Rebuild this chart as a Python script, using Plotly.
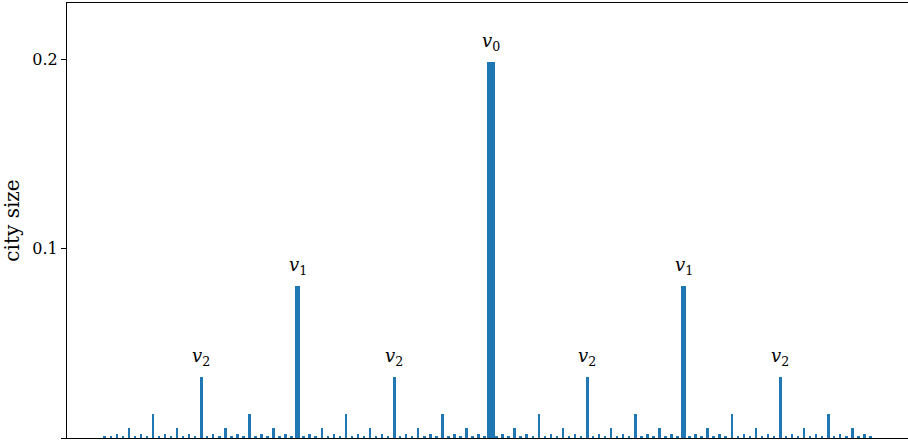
import plotly.graph_objects as go

# Hierarchy level of each of the 128 cities on the ring (0 = largest centre)
city_level = [
    6, 6, 5, 6, 4, 6, 5, 6, 3, 6, 5, 6, 4, 6, 5, 6,
    2, 6, 5, 6, 4, 6, 5, 6, 3, 6, 5, 6, 4, 6, 5, 6,
    1, 6, 5, 6, 4, 6, 5, 6, 3, 6, 5, 6, 4, 6, 5, 6,
    2, 6, 5, 6, 4, 6, 5, 6, 3, 6, 5, 6, 4, 6, 5, 6,
    0, 6, 5, 6, 4, 6, 5, 6, 3, 6, 5, 6, 4, 6, 5, 6,
    2, 6, 5, 6, 4, 6, 5, 6, 3, 6, 5, 6, 4, 6, 5, 6,
    1, 6, 5, 6, 4, 6, 5, 6, 3, 6, 5, 6, 4, 6, 5, 6,
    2, 6, 5, 6, 4, 6, 5, 6, 3, 6, 5, 6, 4, 6, 5, 6,
]

# City size at each hierarchy level
level_size = [0.1983, 0.0804, 0.0322, 0.0127, 0.0051, 0.0020, 0.0008]

# Labelled levels
label_levels = [0, 1, 2]
label_text = ["<i>v</i><sub>0</sub>", "<i>v</i><sub>1</sub>", "<i>v</i><sub>2</sub>"]

y_ticks = [0.0, 0.1, 0.2]
y_tick_text = ["0.0", "0.1", "0.2"]

city_index = list(range(len(city_level)))
city_size = [level_size[lv] for lv in city_level]

# Larger centres drawn with wider bars
level_width = [1.38, 0.83, 0.5, 0.4, 0.33, 0.33, 0.33]
bar_width = [level_width[lv] for lv in city_level]

BLUE = "#1f77b4"
FONT = "DejaVu Serif"

fig = go.Figure()
fig.add_trace(go.Bar(
    x=city_index,
    y=city_size,
    width=bar_width,
    marker=dict(color=BLUE, line=dict(width=0)),
    hoverinfo="x+y",
))

for idx, lv in enumerate(city_level):
    if lv in label_levels:
        fig.add_annotation(
            x=idx, y=level_size[lv],
            text=label_text[label_levels.index(lv)],
            showarrow=False,
            yanchor="bottom",
            yshift=6,
            font=dict(family=FONT, size=18, color="black"),
        )

fig.update_layout(
    width=908, height=444,
    margin=dict(l=67, r=0, t=3, b=6),
    plot_bgcolor="white",
    paper_bgcolor="white",
    showlegend=False,
    bargap=0,
    font=dict(family=FONT, color="black"),
)

fig.update_xaxes(
    range=[-6.3, 133.2],
    showgrid=False, zeroline=False,
    showticklabels=False, ticks="",
    showline=True, linecolor="black", linewidth=1,
    mirror=True,
)

fig.update_yaxes(
    range=[0, 0.2296],
    tickvals=y_ticks, ticktext=y_tick_text,
    ticks="outside", ticklen=5, tickwidth=1, tickcolor="black",
    tickfont=dict(family=FONT, size=16, color="black"),
    showgrid=False, zeroline=False,
    showline=True, linecolor="black", linewidth=1,
    title=dict(text="city size", font=dict(family=FONT, size=20, color="black"), standoff=8),
)

fig.write_html("out.html")
